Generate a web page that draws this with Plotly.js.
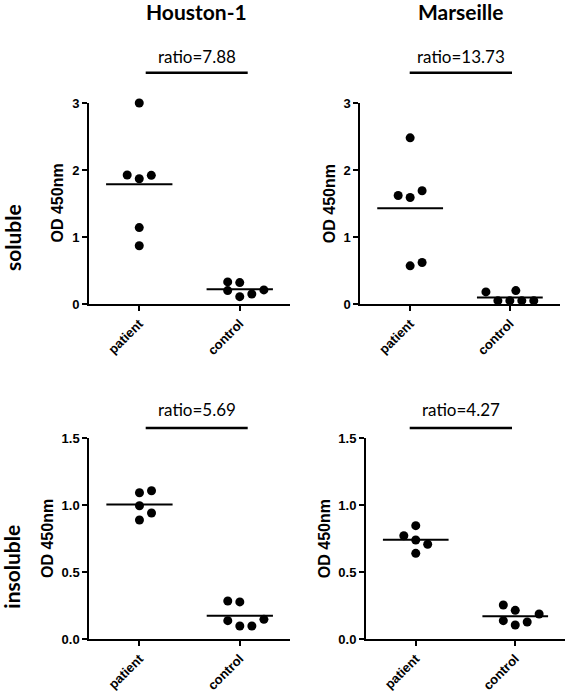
<!DOCTYPE html>
<html>
<head>
<meta charset="utf-8">
<script src="https://cdn.plot.ly/plotly-3.0.1.min.js"></script>
<style>html,body{margin:0;padding:0;background:#fff;}#chart{width:566px;height:698px;}</style>
</head>
<body>
<div id="chart"></div>
<script>
// ---- data ----
var categories = ["patient", "control"];
var strains = ["Houston-1", "Marseille"];
var fractions = ["soluble", "insoluble"];
var ratios = ["7.88", "13.73", "5.69", "4.27"];
var yTitle = "OD 450nm";

// Houston-1 soluble
var houstonSolPatient = [3.0, 1.925, 1.87, 1.92, 1.14, 0.87];
var houstonSolControl = [0.33, 0.32, 0.20, 0.11, 0.15, 0.21];
// Marseille soluble
var marseilleSolPatient = [2.48, 1.62, 1.59, 1.69, 0.57, 0.62];
var marseilleSolControl = [0.18, 0.20, 0.05, 0.05, 0.05, 0.05];
// Houston-1 insoluble
var houstonInsPatient = [1.093, 1.108, 0.996, 0.942, 0.889];
var houstonInsControl = [0.284, 0.277, 0.137, 0.097, 0.097, 0.147];
// Marseille insoluble
var marseilleInsPatient = [0.847, 0.772, 0.74, 0.708, 0.64];
var marseilleInsControl = [0.254, 0.214, 0.137, 0.105, 0.127, 0.187];

// ---- horizontal dot spread (style, in category units) ----
var spreadHSP = [0, -0.12, 0, 0.12, 0, 0];
var spreadHSC = [-0.12, 0, -0.12, 0, 0.12, 0.24];
var spreadMSP = [0, -0.12, 0, 0.12, 0, 0.12];
var spreadMSC = [-0.24, 0.06, -0.12, 0, 0.12, 0.24];
var spreadHIP = [0, 0.12, 0, 0.12, 0];
var spreadHIC = [-0.12, 0, -0.12, 0, 0.12, 0.24];
var spreadMIP = [0, -0.12, 0, 0.12, 0];
var spreadMIC = [-0.12, 0, -0.12, 0, 0.12, 0.24];

var panels = [
  {p: houstonSolPatient, c: houstonSolControl, sp: spreadHSP, sc: spreadHSC, ax: ""},
  {p: marseilleSolPatient, c: marseilleSolControl, sp: spreadMSP, sc: spreadMSC, ax: "2"},
  {p: houstonInsPatient, c: houstonInsControl, sp: spreadHIP, sc: spreadHIC, ax: "3"},
  {p: marseilleInsPatient, c: marseilleInsControl, sp: spreadMIP, sc: spreadMIC, ax: "4"}
];

function mean(a){ var s=0; for (var i=0;i<a.length;i++) s+=a[i]; return s/a.length; }

var traces = [];
panels.forEach(function(pn){
  var xs = [], ys = [];
  pn.p.forEach(function(v,i){ xs.push(0 + pn.sp[i]); ys.push(v); });
  pn.c.forEach(function(v,i){ xs.push(1 + pn.sc[i]); ys.push(v); });
  var mp = mean(pn.p), mc = mean(pn.c);
  traces.push({
    type: "scatter", mode: "lines",
    x: [-0.33, 0.33, null, 1-0.33, 1+0.33],
    y: [mp, mp, null, mc, mc],
    line: {color: "#000", width: 2},
    xaxis: "x" + pn.ax, yaxis: "y" + pn.ax,
    hoverinfo: "skip", showlegend: false, cliponaxis: false
  });
  traces.push({
    type: "scatter", mode: "markers",
    x: xs, y: ys,
    marker: {color: "#000", size: 9},
    xaxis: "x" + pn.ax, yaxis: "y" + pn.ax,
    showlegend: false, cliponaxis: false
  });
});

var W = 566, H = 698;
function px(v){ return v / W; }
function py(v){ return 1 - v / H; }

var tickFont = {family: "Liberation Sans, Arial, sans-serif", size: 13, color: "#000", weight: "bold"};
function xAx(domain, anchor){
  return {
    domain: domain, anchor: anchor, range: [-0.5, 1.5],
    tickvals: [0, 1], ticktext: categories, tickangle: -45,
    showline: true, linecolor: "#000", linewidth: 2,
    ticks: "outside", ticklen: 5, tickwidth: 2, tickcolor: "#000",
    showgrid: false, zeroline: false, tickfont: tickFont, fixedrange: true
  };
}
function yAx(domain, anchor, top, dtick, fmt){
  return {
    domain: domain, anchor: anchor, range: [0, top], dtick: dtick, tick0: 0, tickformat: fmt,
    showline: true, linecolor: "#000", linewidth: 2,
    ticks: "outside", ticklen: 5, tickwidth: 2, tickcolor: "#000",
    showgrid: false, zeroline: false, tickfont: tickFont,
    fixedrange: true
  };
}

var topRow = [py(304), py(103)];
var botRow = [py(639), py(438.3)];

var layout = {
  width: W, height: H,
  margin: {l: 0, r: 0, t: 0, b: 0},
  paper_bgcolor: "#fff", plot_bgcolor: "rgba(0,0,0,0)",
  showlegend: false,
  xaxis:  xAx([px(89), px(290)], "y"),
  yaxis:  yAx(topRow, "x", 3, 1, "d"),
  xaxis2: xAx([px(360.3), px(559.7)], "y2"),
  yaxis2: yAx(topRow, "x2", 3, 1, "d"),
  xaxis3: xAx([px(89.3), px(290)], "y3"),
  yaxis3: yAx(botRow, "x3", 1.5, 0.5, ".1f"),
  xaxis4: xAx([px(366), px(565)], "y4"),
  yaxis4: yAx(botRow, "x4", 1.5, 0.5, ".1f"),
  shapes: [],
  annotations: []
};

var titleFont = {family: "Lato, Open Sans, sans-serif", size: 21, color: "#000", weight: "bold"};
var ratioFont = {family: "Lato, Open Sans, sans-serif", size: 17, color: "#000"};
var yTitleFont = {family: "Liberation Sans, Arial, sans-serif", size: 16, color: "#000", weight: "bold"};
var colCenter = [px(196.7), px(460.5)];
var ratioLineX = [[px(145.7), px(247.7)], [px(409.7), px(512)]];
var yTitlePos = [[57, 203.5], [329.7, 203.5], [47.5, 538.5], [324.7, 538.5]];

strains.forEach(function(s, i){
  layout.annotations.push({text: s, xref: "paper", yref: "paper", x: colCenter[i], y: 1, yshift: 3, xanchor: "center", yanchor: "top", showarrow: false, font: titleFont});
});
fractions.forEach(function(f, i){
  layout.annotations.push({text: f, xref: "paper", yref: "paper", x: px(12), y: i === 0 ? py(238) : py(566.7), xanchor: "center", yanchor: "middle", textangle: -90, showarrow: false, font: titleFont});
});
yTitlePos.forEach(function(p){
  layout.annotations.push({text: yTitle, xref: "paper", yref: "paper", x: px(p[0]), y: py(p[1]), xanchor: "center", yanchor: "middle", textangle: -90, showarrow: false, font: yTitleFont});
});
ratios.forEach(function(r, i){
  var col = i % 2, row = Math.floor(i / 2);
  var lineY = row === 0 ? py(72.7) : py(428);
  var textY = row === 0 ? py(56) : py(409.3);
  layout.annotations.push({text: "ratio=" + r, xref: "paper", yref: "paper", x: colCenter[col], y: textY, xanchor: "center", yanchor: "middle", showarrow: false, font: ratioFont});
  layout.shapes.push({type: "line", xref: "paper", yref: "paper", x0: ratioLineX[col][0], x1: ratioLineX[col][1], y0: lineY, y1: lineY, line: {color: "#000", width: 2.5}});
});

Plotly.newPlot("chart", traces, layout, {displayModeBar: false, staticPlot: true});
</script>
</body>
</html>
